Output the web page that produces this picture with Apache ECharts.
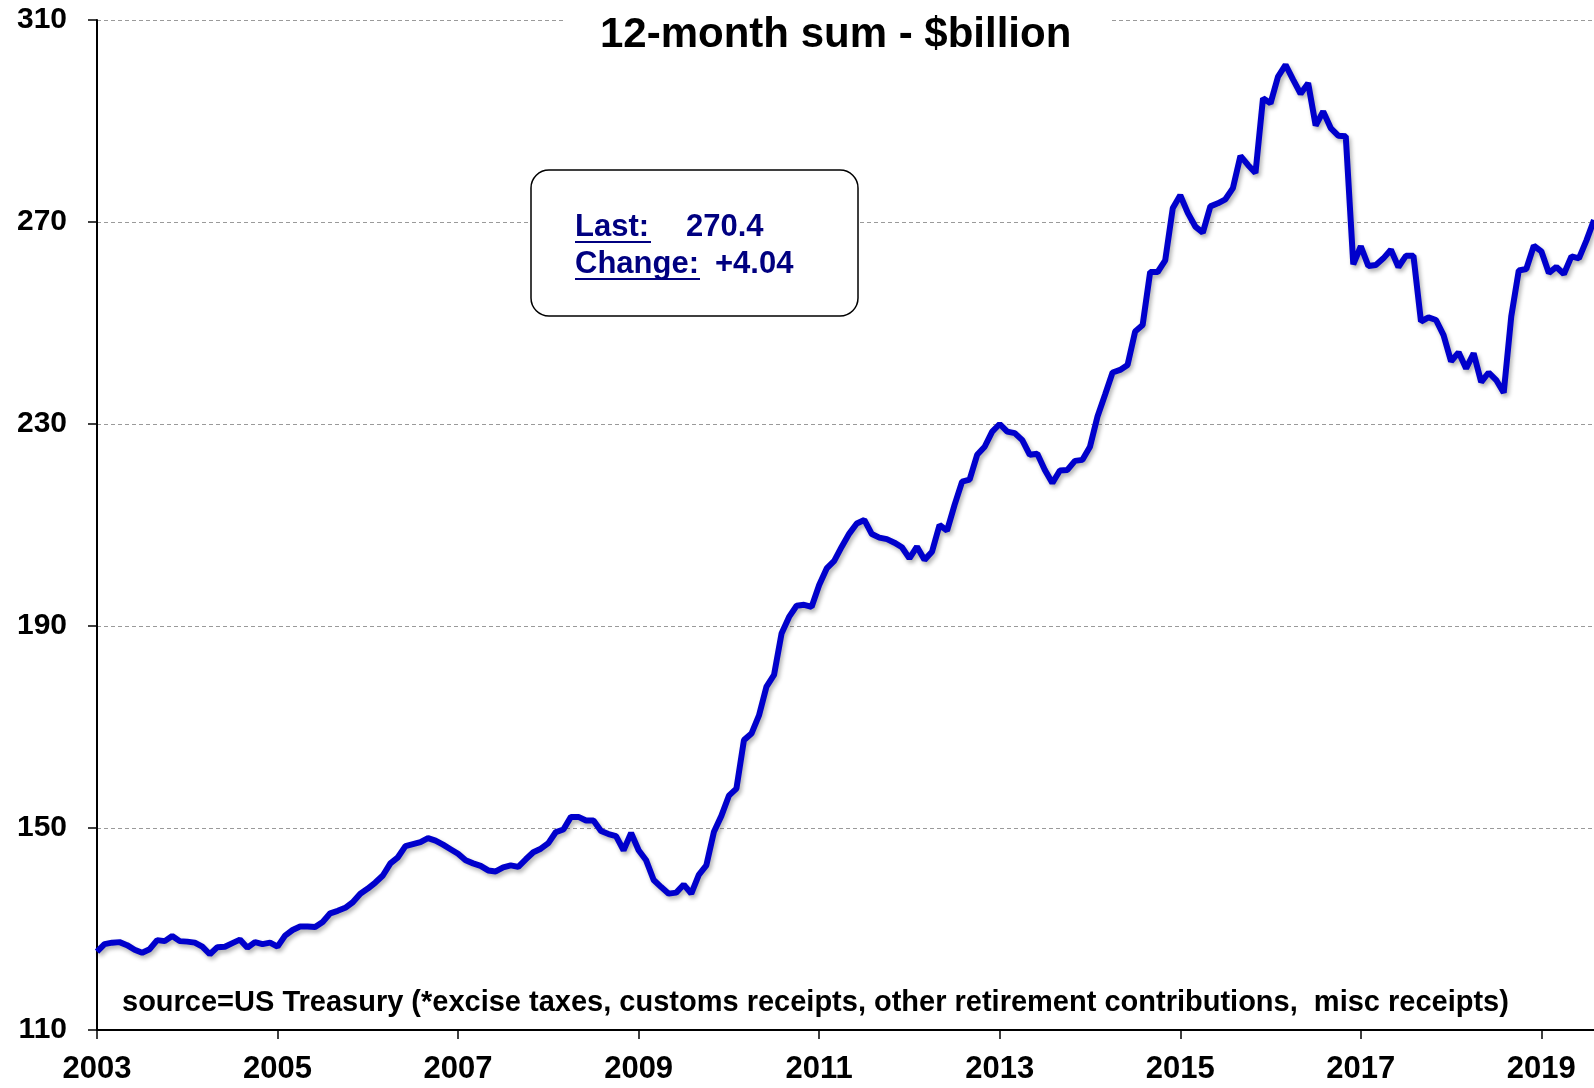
<!DOCTYPE html>
<html lang="en">
<head>
<meta charset="UTF-8">
<title>12-month sum - $billion</title>
<script src="https://cdn.jsdelivr.net/npm/echarts@6/dist/echarts.min.js"></script>
<style>html,body{margin:0;padding:0;background:#fff;}</style>
</head>
<body>
<div id="main" style="width:1594px;height:1088px;"></div>
<script type="text/javascript">
// monthly 12-month sums, Jan 2003 .. Aug 2019 ($bn)
var startYear = 2003;
var values = [
  125.5, 127.0, 127.3, 127.4, 126.8, 125.9, 125.3, 126.0, 127.8, 127.6, 128.6, 127.6,
  127.5, 127.3, 126.5, 125.0, 126.4, 126.5, 127.2, 127.9, 126.3, 127.4, 127.0, 127.3,
  126.5, 128.7, 129.8, 130.5, 130.5, 130.4, 131.4, 133.1, 133.6, 134.2, 135.3, 137.0,
  138.0, 139.2, 140.6, 143.0, 144.2, 146.4, 146.8, 147.2, 148.0, 147.5, 146.7, 145.8,
  144.9, 143.6, 143.0, 142.5, 141.6, 141.4, 142.2, 142.6, 142.3, 143.8, 145.2, 145.9,
  147.0, 149.2, 149.7, 152.2, 152.2, 151.5, 151.5, 149.4, 148.8, 148.4, 145.6, 149.0,
  145.6, 143.6, 139.7, 138.3, 137.0, 137.2, 138.8, 137.0, 140.7, 142.6, 149.2, 152.4,
  156.4, 157.8, 167.4, 168.7, 172.3, 178.0, 180.3, 188.5, 191.8, 194.0, 194.2, 193.8,
  198.1, 201.4, 202.9, 205.7, 208.3, 210.3, 211.0, 208.2, 207.5, 207.2, 206.5, 205.6,
  203.4, 205.7, 203.1, 204.7, 210.0, 208.9, 214.0, 218.6, 219.0, 223.9, 225.5, 228.5,
  230.0, 228.5, 228.2, 226.8, 223.9, 224.1, 220.9, 218.3, 220.8, 220.9, 222.7, 222.9,
  225.5, 231.5, 235.8, 240.2, 240.7, 241.7, 248.3, 249.6, 260.1, 260.1, 262.4, 272.7,
  275.3, 271.8, 269.1, 267.9, 273.1, 273.7, 274.5, 276.7, 283.1, 281.3, 279.7, 294.5,
  293.5, 298.8, 301.1, 298.2, 295.4, 297.5, 289.1, 291.9, 288.6, 287.1, 287.0, 261.6,
  265.2, 261.3, 261.5, 262.8, 264.5, 261.1, 263.3, 263.3, 250.3, 251.1, 250.6, 247.6,
  242.4, 244.2, 241.0, 244.0, 238.3, 240.2, 238.7, 236.2, 251.3, 260.4, 260.7, 265.3,
  264.2, 259.9, 261.1, 259.7, 263.2, 262.8, 266.36, 270.4
];
var yMin = 110, yMax = 310, yStep = 40;
var labelEvery = 24; // a year label every 2 years

var months = [];
for (var i = 0; i < values.length; i++) {
  var mm = i % 12 + 1;
  months.push((startYear + Math.floor(i / 12)) + '-' + (mm < 10 ? '0' + mm : mm));
}

var lastVal = values[values.length - 1];
var chg = lastVal - values[values.length - 2];
var lastText = lastVal.toFixed(1);
var chgText = (chg >= 0 ? '+' : '') + chg.toFixed(2);

var FONT = '"Liberation Sans", Arial, sans-serif';
var NAVY = '#000080';

var myChart = echarts.init(document.getElementById('main'));

var option = {
  animation: false,
  backgroundColor: '#fff',
  title: {
    text: '12-month sum - $billion',
    left: 564,
    top: -16,
    padding: [30, 38, 8, 36],
    backgroundColor: '#fff',
    textStyle: { fontFamily: FONT, fontWeight: 'bold', fontSize: 42, color: '#000' }
  },
  grid: { left: 97, right: 0, top: 20, bottom: 58 },
  xAxis: {
    type: 'category',
    data: months,
    boundaryGap: false,
    axisLine: { lineStyle: { color: '#000', width: 2 } },
    axisTick: {
      interval: function (idx) { return idx % labelEvery === 0; },
      length: 9,
      lineStyle: { color: '#000', width: 1.5 }
    },
    axisLabel: {
      interval: function (idx) { return idx % labelEvery === 0; },
      formatter: function (v) { return v.slice(0, 4); },
      margin: 24,
      fontFamily: FONT, fontWeight: 'bold', fontSize: 31, color: '#000'
    },
    splitLine: { show: false }
  },
  yAxis: {
    type: 'value',
    min: yMin, max: yMax, interval: yStep,
    axisLine: { show: true, lineStyle: { color: '#000', width: 2 } },
    axisTick: { show: true, length: 9, lineStyle: { color: '#000', width: 1.5 } },
    axisLabel: { margin: 30, fontFamily: FONT, fontWeight: 'bold', fontSize: 30, color: '#000' },
    splitLine: { lineStyle: { color: '#9a9a9a', width: 1, type: [4, 3] } }
  },
  series: [{
    type: 'line',
    data: values,
    symbol: 'none',
    z: 3,
    lineStyle: {
      color: '#0000CC', width: 6,
      shadowColor: 'rgba(0,0,0,0.3)', shadowBlur: 4, shadowOffsetX: 2, shadowOffsetY: 3
    }
  }],
  graphic: [
    {
      type: 'rect', z: 10,
      shape: { x: 531, y: 170, width: 327, height: 146, r: 18 },
      style: { fill: '#fff', stroke: '#000', lineWidth: 1.5 }
    },
    {
      type: 'text', z: 11, x: 575, y: 227,
      style: { text: 'Last:', fill: NAVY, font: 'bold 31px ' + FONT, verticalAlign: 'middle' }
    },
    {
      type: 'line', z: 11,
      shape: { x1: 575, y1: 242, x2: 651, y2: 242 },
      style: { stroke: NAVY, lineWidth: 2 }
    },
    {
      type: 'text', z: 11, x: 686, y: 227,
      style: { text: lastText, fill: NAVY, font: 'bold 31px ' + FONT, verticalAlign: 'middle' }
    },
    {
      type: 'text', z: 11, x: 575, y: 264,
      style: { text: 'Change:', fill: NAVY, font: 'bold 31px ' + FONT, verticalAlign: 'middle' }
    },
    {
      type: 'line', z: 11,
      shape: { x1: 575, y1: 279, x2: 700, y2: 279 },
      style: { stroke: NAVY, lineWidth: 2 }
    },
    {
      type: 'text', z: 11, x: 715, y: 264,
      style: { text: chgText, fill: NAVY, font: 'bold 31px ' + FONT, verticalAlign: 'middle' }
    },
    {
      type: 'text', z: 11, x: 122, y: 1003,
      style: {
        text: 'source=US Treasury (*excise taxes, customs receipts, other retirement contributions,  misc receipts)',
        fill: '#000', font: 'bold 29px ' + FONT, verticalAlign: 'middle'
      }
    }
  ]
};

myChart.setOption(option);
</script>
</body>
</html>
